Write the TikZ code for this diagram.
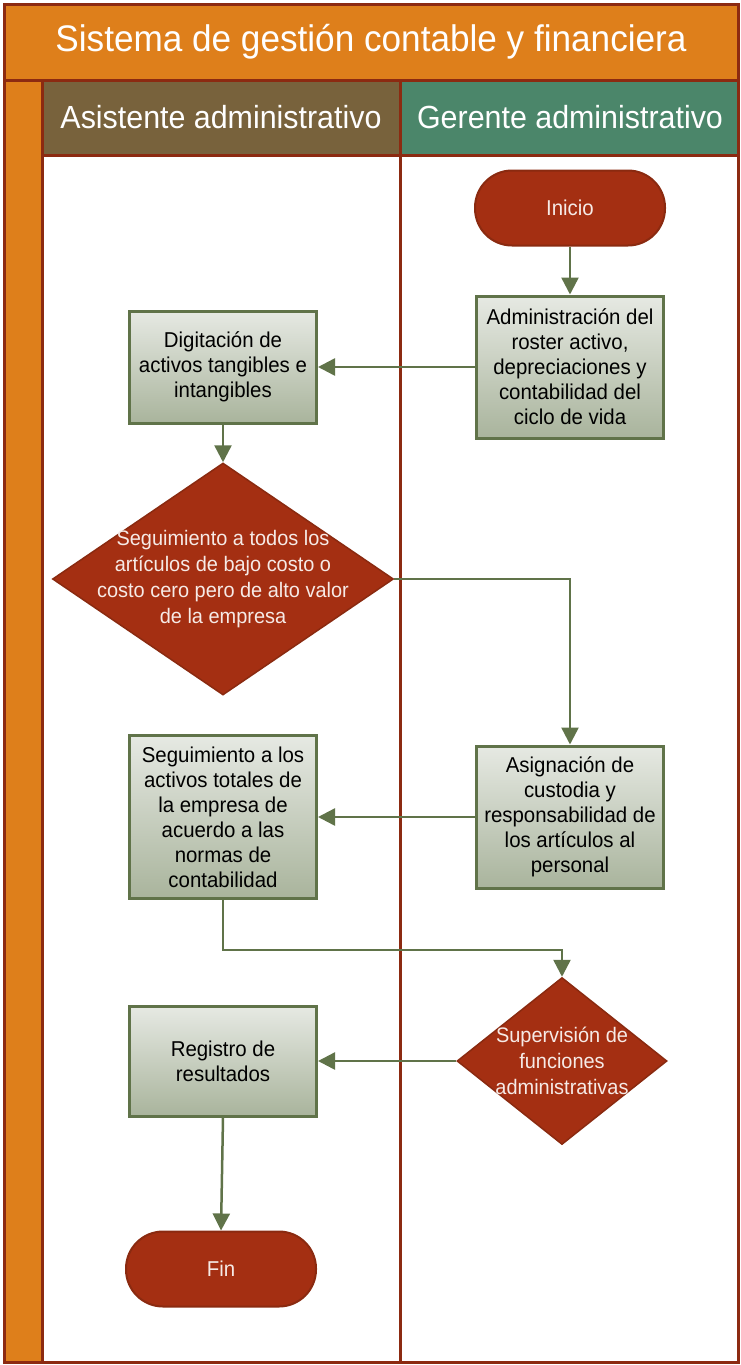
\documentclass[tikz,border=0pt]{standalone}
\usepackage{fontspec}
\setmainfont[FakeStretch=0.95]{Liberation Sans}
\usetikzlibrary{arrows.meta,shapes.geometric}
\definecolor{orng}{HTML}{DE7F1B}
\definecolor{frm}{HTML}{8C2A11}
\definecolor{brownh}{HTML}{78623C}
\definecolor{tealh}{HTML}{4B866A}
\definecolor{rd}{HTML}{A42F12}
\definecolor{rdb}{HTML}{8A2A10}
\definecolor{grn}{HTML}{607349}
\definecolor{gtop}{HTML}{E6E9E3}
\definecolor{gbot}{HTML}{A9B49C}
\definecolor{wtxt}{HTML}{F6EAE6}
\newcommand{\boxfont}{\fontsize{21.5}{25}\selectfont}
\newcommand{\decfont}{\fontsize{21}{26}\selectfont}
\tikzset{
  frame/.style={draw=frm, line width=3pt},
  proc/.style={draw=grn, line width=3pt, top color=gtop, bottom color=gbot, minimum width=187pt, align=center, font=\boxfont, text=black, inner sep=1pt},
  term/.style={draw=rdb, line width=2pt, fill=rd, rounded corners=37pt, minimum width=190pt, minimum height=75pt, text=wtxt, font=\boxfont},
  dec/.style={diamond, draw=rdb, line width=1.5pt, fill=rd, inner sep=0pt},
  dtext/.style={text=wtxt, align=center, font=\decfont},
  arr/.style={draw=grn, line width=2.5pt, -{Triangle[length=17pt,width=17pt]}},
}
\begin{document}
\begin{tikzpicture}[x=1pt,y=-1pt]
\useasboundingbox (0,0) rectangle (741,1365);
% frame
\fill[orng] (4,4) rectangle (738,80);
\fill[orng] (4,80) rectangle (42,1362);
\fill[brownh] (42,80) rectangle (400,155);
\fill[tealh] (400,80) rectangle (738,155);
\draw[frame] (4,4) rectangle (738,1362);
\draw[frame] (4,80) -- (738,80);
\draw[frame] (42,155) -- (738,155);
\draw[frame] (42,80) -- (42,1362);
\draw[frame] (400,80) -- (400,1362);
\node[text=white, font=\fontsize{37}{42}\selectfont] (title) at (371,42) {Sistema de gestión contable y financiera};
\node[text=white, font=\fontsize{32}{36}\selectfont] (lane1) at (221,117) {Asistente administrativo};
\node[text=white, font=\fontsize{32}{36}\selectfont] (lane2) at (570,117) {Gerente administrativo};
% nodes
\node[term] (inicio) at (570,208) {Inicio};
\node[proc, minimum height=142pt] (admin) at (570,367) {Administración del\\roster activo,\\depreciaciones y\\contabilidad del\\ciclo de vida};
\node[proc, minimum height=112pt] (dig) at (223,367) {Digitación de\\activos tangibles e\\intangibles};
\node[dec, minimum width=341pt, minimum height=232pt] (d1) at (223,579) {};
\node[dtext] (d1t) at (223,579) {Seguimiento a todos los\\artículos de bajo costo o\\costo cero pero de alto valor\\de la empresa};
\node[proc, minimum height=142pt] (asig) at (570,817) {Asignación de\\custodia y\\responsabilidad de\\los artículos al\\personal};
\node[proc, minimum height=163pt] (seg) at (223,817) {Seguimiento a los\\activos totales de\\la empresa de\\acuerdo a las\\normas de\\contabilidad};
\node[dec, minimum width=210pt, minimum height=167pt] (d2) at (562,1061) {};
\node[dtext] (d2t) at (562,1061) {Supervisión de\\funciones\\administrativas};
\node[proc, minimum height=110pt] (reg) at (223,1061) {Registro de\\resultados};
\node[term] (fin) at (221,1269) {Fin};
% connectors
\draw[arr] (inicio.south) -- (admin.north);
\draw[arr] (admin.west) -- (dig.east);
\draw[arr] (dig.south) -- (d1.north);
\draw[arr] (d1.east) -| (asig.north);
\draw[arr] (asig.west) -- (seg.east);
\draw[arr] (seg.south) -- ++(0,50) -| (d2.north);
\draw[arr] (d2.west) -- (reg.east);
\draw[arr] (reg.south) -- (fin.north);
\end{tikzpicture}
\end{document}
